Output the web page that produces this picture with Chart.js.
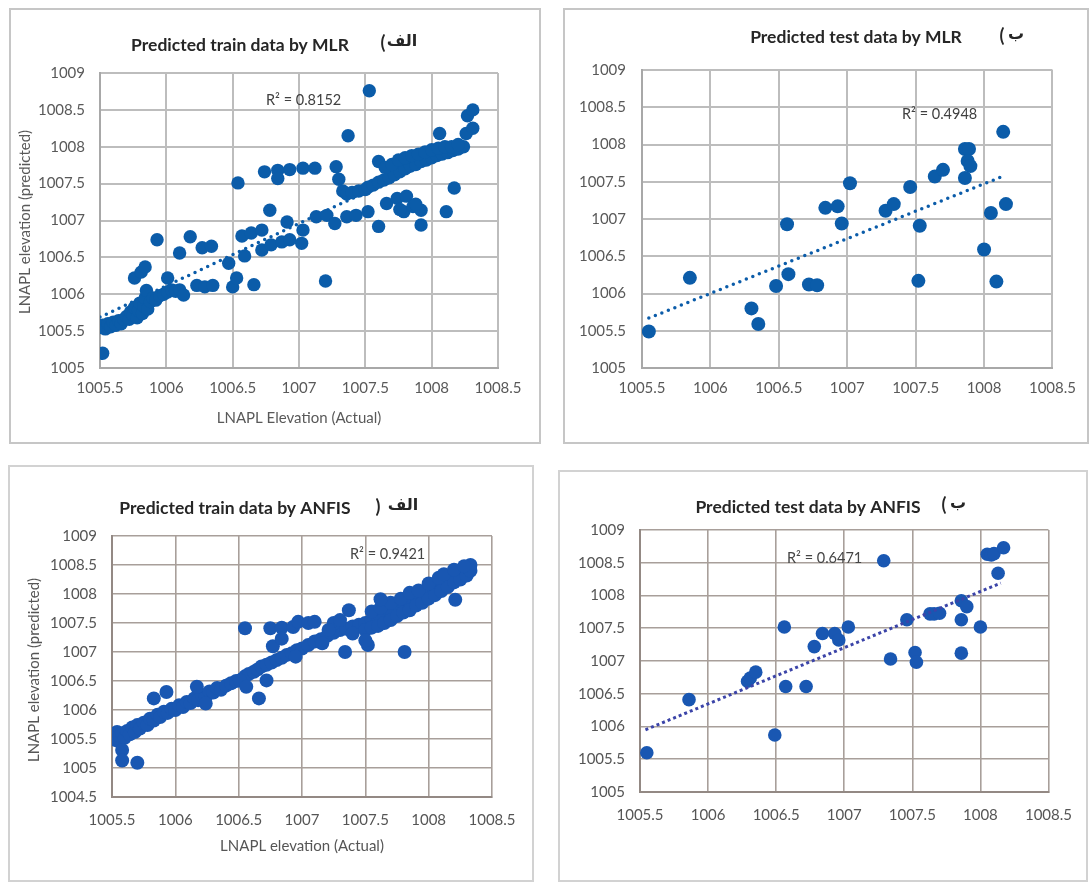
<!DOCTYPE html>
<html>
<head>
<meta charset="utf-8">
<title>LNAPL elevation: MLR and ANFIS predictions</title>
<script src="https://cdn.jsdelivr.net/npm/chart.js@4.4.1/dist/chart.umd.min.js"></script>
<style>
  html, body { margin: 0; padding: 0; background: #fff; }
  body { width: 1091px; height: 884px; position: relative; overflow: hidden; }
  .panel { position: absolute; box-sizing: border-box; background: #fff; }
  .panel canvas { position: absolute; left: 0; top: 0; }
</style>
</head>
<body>
<div class="panel" style="left:9px;top:8px;width:532px;height:436px;border:2px solid #c6c6c6"><canvas id="c1" width="528" height="432" style="width:528px;height:432px"></canvas></div>
<div class="panel" style="left:563px;top:8px;width:526px;height:436px;border:2px solid #c6c6c6"><canvas id="c2" width="522" height="432" style="width:522px;height:432px"></canvas></div>
<div class="panel" style="left:8px;top:465px;width:526px;height:417px;border:2px solid #d2d2d2"><canvas id="c3" width="522" height="413" style="width:522px;height:413px"></canvas></div>
<div class="panel" style="left:558px;top:470px;width:530px;height:412px;border:2px solid #d2d2d2"><canvas id="c4" width="526" height="408" style="width:526px;height:408px"></canvas></div>

<script>
// ---------- axis ticks ----------
const xTickValues = [1005.5, 1006, 1006.5, 1007, 1007.5, 1008, 1008.5];
const yTickValues = [1005, 1005.5, 1006, 1006.5, 1007, 1007.5, 1008, 1008.5, 1009];
const yTickValuesAnfisTrain = [1004.5, 1005, 1005.5, 1006, 1006.5, 1007, 1007.5, 1008, 1008.5, 1009];

// ---------- MLR, training set ----------
const mlrTrainActual = [
  1005.52,
  1005.51, 1005.52, 1005.54, 1005.56, 1005.58, 1005.60, 1005.62, 1005.64, 1005.66, 1005.68,
  1005.70, 1005.72, 1005.73, 1005.75, 1005.76, 1005.78, 1005.79, 1005.80, 1005.82, 1005.83,
  1005.84, 1005.85, 1005.86, 1005.88, 1005.90, 1005.92, 1005.95, 1005.98, 1006.01, 1006.04,
  1006.07, 1006.10, 1006.13,
  1005.76, 1005.81, 1005.84, 1005.93, 1006.01, 1006.10, 1006.18, 1006.27, 1006.34, 1006.23,
  1006.29, 1006.35, 1006.47, 1006.50, 1006.53, 1006.66, 1006.54, 1006.59, 1006.57, 1006.64,
  1006.72,
  1006.74, 1006.84, 1006.84, 1006.93, 1007.03, 1007.12, 1006.78, 1006.91,
  1006.72, 1006.79, 1006.87, 1006.93, 1007.02, 1007.03,
  1007.13, 1007.21, 1007.27, 1007.36, 1007.43, 1007.52, 1007.20, 1007.60,
  1007.37, 1007.53, 1007.28, 1007.30, 1007.33, 1007.36, 1007.40, 1007.45, 1007.50,
  1007.52, 1007.56, 1007.60, 1007.64, 1007.68, 1007.72, 1007.76, 1007.80, 1007.84, 1007.88,
  1007.92, 1007.96, 1008.00, 1008.04, 1008.08, 1008.12, 1008.16, 1008.20, 1008.24,
  1007.60, 1007.65, 1007.70, 1007.75, 1007.80, 1007.85, 1007.90, 1007.95, 1008.00, 1008.05,
  1008.10, 1008.15, 1008.20,
  1008.06, 1008.26, 1008.31, 1008.27, 1008.31, 1008.17,
  1007.66, 1007.74, 1007.81, 1007.79, 1007.86, 1007.92, 1007.92, 1008.11, 1007.76, 1007.88
];
const mlrTrainPredicted = [
  1005.20,
  1005.55, 1005.58, 1005.53, 1005.60, 1005.56, 1005.62, 1005.58, 1005.64, 1005.60, 1005.66,
  1005.70, 1005.66, 1005.76, 1005.72, 1005.82, 1005.68, 1005.78, 1005.88, 1005.74, 1005.84,
  1005.95, 1006.05, 1005.80, 1005.90, 1005.95, 1005.92, 1005.98, 1006.00, 1006.03, 1006.06,
  1006.04, 1006.06, 1005.99,
  1006.22, 1006.30, 1006.37, 1006.74, 1006.22, 1006.56, 1006.78, 1006.63, 1006.65, 1006.12,
  1006.10, 1006.12, 1006.42, 1006.10, 1006.22, 1006.13, 1007.51, 1006.52, 1006.79, 1006.83,
  1006.87,
  1007.66, 1007.68, 1007.57, 1007.69, 1007.71, 1007.71, 1007.14, 1006.98,
  1006.60, 1006.67, 1006.71, 1006.74, 1006.69, 1006.87,
  1007.05, 1007.07, 1006.96, 1007.05, 1007.07, 1007.12, 1006.18, 1006.92,
  1008.15, 1008.76, 1007.73, 1007.56, 1007.40, 1007.36, 1007.38, 1007.40, 1007.42,
  1007.45, 1007.48, 1007.52, 1007.55, 1007.58, 1007.62, 1007.66, 1007.70, 1007.74, 1007.76,
  1007.80, 1007.82, 1007.85, 1007.88, 1007.90, 1007.92, 1007.95, 1007.97, 1008.00,
  1007.80, 1007.72, 1007.76, 1007.82, 1007.85, 1007.88, 1007.90, 1007.93, 1007.96, 1007.98,
  1008.00, 1008.00, 1008.03,
  1008.18, 1008.18, 1008.25, 1008.42, 1008.50, 1007.44,
  1007.23, 1007.30, 1007.33, 1007.12, 1007.19, 1007.14, 1006.94, 1007.12, 1007.15, 1007.22
];
const mlrTrainTrendX = [1005.5, 1008.3];
const mlrTrainTrendY = [1005.69, 1008.06];

// ---------- MLR, test set ----------
const mlrTestActual = [
  1005.55, 1005.85, 1006.30, 1006.35, 1006.48, 1006.56, 1006.57, 1006.72, 1006.78, 1006.84,
  1006.93, 1006.96, 1007.02, 1007.28, 1007.34, 1007.46, 1007.53, 1007.52, 1007.64, 1007.70,
  1007.86, 1007.89, 1007.88, 1007.90, 1007.86, 1008.00, 1008.05, 1008.09, 1008.14, 1008.16
];
const mlrTestPredicted = [
  1005.49, 1006.21, 1005.80, 1005.59, 1006.10, 1006.93, 1006.26, 1006.12, 1006.11, 1007.15,
  1007.17, 1006.94, 1007.48, 1007.11, 1007.20, 1007.43, 1006.91, 1006.17, 1007.57, 1007.66,
  1007.94, 1007.94, 1007.78, 1007.71, 1007.55, 1006.59, 1007.08, 1006.16, 1008.17, 1007.20
];
const mlrTestTrendX = [1005.55, 1008.16];
const mlrTestTrendY = [1005.67, 1007.59];

// ---------- ANFIS, training set ----------
const anfisTrainActual = [
  1005.50, 1005.51, 1005.53, 1005.54, 1005.56, 1005.58, 1005.60, 1005.62, 1005.64, 1005.58,
  1005.58, 1005.70,
  1005.66, 1005.68, 1005.70, 1005.72, 1005.75, 1005.78, 1005.80, 1005.83, 1005.86, 1005.88,
  1005.91, 1005.94, 1005.97, 1006.00, 1006.03, 1006.06, 1006.09, 1006.12, 1006.15, 1006.18,
  1006.21, 1006.24, 1006.27, 1006.30, 1006.33, 1006.36, 1006.40, 1006.44, 1006.48, 1006.52,
  1006.55, 1006.58, 1006.62, 1006.65, 1006.68, 1006.72, 1006.76, 1006.80, 1006.84, 1006.88,
  1006.92, 1006.96, 1007.00, 1007.05, 1007.10, 1007.15, 1007.20, 1007.25, 1007.30, 1007.35,
  1007.40, 1007.45, 1007.50, 1007.55, 1007.60, 1007.65, 1007.70, 1007.75, 1007.80, 1007.85,
  1007.90, 1007.95, 1008.00, 1008.05, 1008.10, 1008.15, 1008.20, 1008.25, 1008.30, 1008.33,
  1007.25, 1007.30, 1007.40, 1007.50, 1007.55, 1007.60, 1007.65, 1007.70, 1007.75, 1007.80,
  1007.85, 1007.90, 1007.95, 1008.00, 1008.05, 1008.10, 1008.15, 1008.20, 1008.25, 1008.30,
  1008.33,
  1007.55, 1007.62, 1007.70, 1007.78, 1007.85, 1007.92, 1008.00, 1008.08, 1008.12, 1008.20,
  1008.28,
  1005.83, 1005.93, 1006.17, 1006.24, 1006.55, 1006.66, 1006.72, 1006.51, 1006.56, 1006.75,
  1006.84, 1006.93, 1006.97, 1007.05, 1007.10, 1006.77, 1006.84, 1006.95, 1007.16, 1007.34,
  1007.37, 1007.52, 1007.50, 1007.62, 1007.81, 1008.21, 1007.21
];
const anfisTrainPredicted = [
  1005.52, 1005.58, 1005.48, 1005.62, 1005.55, 1005.60, 1005.52, 1005.64, 1005.58, 1005.31,
  1005.13, 1005.09,
  1005.70, 1005.62, 1005.74, 1005.68, 1005.78, 1005.74, 1005.85, 1005.82, 1005.92, 1005.88,
  1005.97, 1005.95, 1006.02, 1006.00, 1006.08, 1006.05, 1006.14, 1006.12, 1006.20, 1006.17,
  1006.26, 1006.22, 1006.32, 1006.30, 1006.38, 1006.35, 1006.42, 1006.46, 1006.50, 1006.52,
  1006.58, 1006.62, 1006.66, 1006.70, 1006.75, 1006.78, 1006.82, 1006.86, 1006.90, 1006.95,
  1006.98, 1007.03, 1007.06, 1007.12, 1007.18, 1007.22, 1007.28, 1007.33, 1007.38, 1007.40,
  1007.44, 1007.47, 1007.50, 1007.55, 1007.60, 1007.65, 1007.72, 1007.78, 1007.84, 1007.90,
  1007.96, 1008.02, 1008.08, 1008.14, 1008.20, 1008.26, 1008.32, 1008.38, 1008.44, 1008.50,
  1007.50, 1007.55, 1007.32, 1007.38, 1007.42, 1007.45, 1007.50, 1007.55, 1007.62, 1007.68,
  1007.72, 1007.80, 1007.85, 1007.92, 1007.98, 1008.05, 1008.12, 1008.20, 1008.25, 1008.32,
  1008.40,
  1007.70, 1007.76, 1007.85, 1007.92, 1008.02, 1008.06, 1008.18, 1008.28, 1008.34, 1008.42,
  1008.48,
  1006.20, 1006.31, 1006.40, 1006.11, 1007.41, 1006.20, 1006.51, 1006.51, 1006.40, 1007.41,
  1007.42, 1007.43, 1007.52, 1007.50, 1007.52, 1007.10, 1007.23, 1006.92, 1007.15, 1007.00,
  1007.72, 1007.12, 1007.20, 1007.91, 1007.00, 1007.90, 1007.38
];
const anfisTrainTrendX = [1005.5, 1008.33];
const anfisTrainTrendY = [1005.56, 1008.40];

// ---------- ANFIS, test set ----------
const anfisTestActual = [
  1005.55, 1005.86, 1006.29, 1006.31, 1006.35, 1006.49, 1006.56, 1006.57, 1006.72, 1006.78,
  1006.84, 1006.93, 1006.96, 1007.03, 1007.29, 1007.34, 1007.46, 1007.52, 1007.53, 1007.63,
  1007.66, 1007.70, 1007.86, 1007.90, 1007.86, 1007.86, 1008.00, 1008.05, 1008.08, 1008.10,
  1008.17, 1008.13
];
const anfisTestPredicted = [
  1005.60, 1006.41, 1006.69, 1006.74, 1006.83, 1005.87, 1007.52, 1006.61, 1006.61, 1007.22,
  1007.42, 1007.42, 1007.32, 1007.52, 1008.53, 1007.03, 1007.63, 1007.13, 1006.98, 1007.72,
  1007.72, 1007.73, 1007.92, 1007.83, 1007.63, 1007.12, 1007.52, 1008.63, 1008.62, 1008.64,
  1008.73, 1008.34
];
const anfisTestTrendX = [1005.54, 1008.15];
const anfisTestTrendY = [1005.95, 1008.19];

// ---------- helpers ----------
const pairs = (xs, ys) => xs.map((x, i) => ({ x: x, y: ys[i] }));
const fmt = v => String(Math.round(v * 10) / 10);

// text layer: titles, panel letters, axis titles and R² notes
const panelText = {
  id: 'panelText',
  afterDraw(chart, args, opts) {
    const ctx = chart.ctx;
    for (const t of opts.items) {
      ctx.save();
      ctx.font = t.font;
      ctx.fillStyle = t.color;
      ctx.textAlign = t.align || 'center';
      ctx.textBaseline = 'middle';
      ctx.direction = 'ltr';
      ctx.translate(t.x - opts.ox, t.y - opts.oy);
      if (t.rotate) ctx.rotate(t.rotate);
      ctx.fillText(t.text, 0, 0);
      ctx.restore();
    }
  }
};

function buildChart(id, g) {
  const datasets = [];
  const trend = {
    type: 'line',
    data: pairs(g.trendX, g.trendY),
    showLine: true,
    borderColor: g.trendColor,
    borderWidth: g.trendWidth,
    borderDash: g.trendDash,
    borderCapStyle: g.trendCap,
    pointRadius: 0,
    fill: false
  };
  const points = {
    data: pairs(g.xs, g.ys),
    backgroundColor: g.dotColor,
    borderWidth: 0,
    pointRadius: g.dotRadius,
    pointHoverRadius: g.dotRadius
  };
  if (g.trendOnTop) { datasets.push(trend, points); } else { datasets.push(points, trend); }

  return new Chart(document.getElementById(id), {
    type: 'scatter',
    data: { datasets: datasets },
    plugins: [panelText],
    options: {
      responsive: false,
      animation: false,
      events: [],
      layout: { padding: { left: 0, top: g.padTop, right: g.padRight, bottom: 0 } },
      plugins: {
        legend: { display: false },
        tooltip: { enabled: false },
        panelText: { items: g.texts, ox: g.ox, oy: g.oy }
      },
      scales: {
        x: {
          type: 'linear',
          min: xTickValues[0],
          max: xTickValues[xTickValues.length - 1],
          afterBuildTicks: ax => { ax.ticks = xTickValues.map(v => ({ value: v })); },
          afterFit: ax => { ax.height = g.xAxisH; },
          grid: { color: g.gridColor, lineWidth: g.gridWidth, drawTicks: false },
          border: { display: true, color: g.axisColor, width: g.axisWidth },
          ticks: {
            callback: fmt, padding: g.xTickPad, color: g.tickColor,
            font: { family: 'Lato', size: g.tickSize }, maxRotation: 0, autoSkip: false
          }
        },
        y: {
          type: 'linear',
          min: g.yTicks[0],
          max: g.yTicks[g.yTicks.length - 1],
          afterBuildTicks: ax => { ax.ticks = g.yTicks.map(v => ({ value: v })); },
          afterFit: ax => { ax.width = g.yAxisW; },
          grid: { color: g.gridColor, lineWidth: g.gridWidth, drawTicks: false },
          border: { display: true, color: g.axisColor, width: g.axisWidth },
          ticks: {
            callback: fmt, padding: g.yTickPad, color: g.tickColor,
            font: { family: 'Lato', size: g.tickSize }, autoSkip: false
          }
        }
      }
    }
  });
}

const titleFont = 'bold 17.5px Lato';
const parenFont = '18px Lato';
const arabicFont = 'bold 16px "DejaVu Sans"';
const noteFont = '14.5px Lato';
const axisTitleFont = '15px Lato';
const blueTop = '#0b5ca9';
const blueBottom = '#1957b2';

// top-left: training data, MLR
buildChart('c1', {
  ox: 11, oy: 10, padTop: 63, padRight: 41, yAxisW: 89, xAxisH: 74,
  xs: mlrTrainActual, ys: mlrTrainPredicted, yTicks: yTickValues,
  trendX: mlrTrainTrendX, trendY: mlrTrainTrendY,
  dotColor: blueTop, dotRadius: 6.7,
  trendColor: blueTop, trendWidth: 3.5, trendDash: [0, 7], trendCap: 'round', trendOnTop: false,
  gridColor: '#bdbdbd', gridWidth: 2, axisColor: '#a8a8a8', axisWidth: 2,
  tickColor: '#595959', tickSize: 15, xTickPad: 11, yTickPad: 15,
  texts: [
    { text: 'Predicted train data by MLR', x: 240, y: 45, font: titleFont, color: '#262626' },
    { text: '(', x: 383, y: 43, font: 'bold ' + parenFont, color: '#262626' },
    { text: 'الف', x: 402, y: 42, font: arabicFont, color: '#262626' },
    { text: 'R² = 0.8152', x: 266, y: 100, font: noteFont, color: '#404040', align: 'left' },
    { text: 'LNAPL Elevation (Actual)', x: 299, y: 418, font: axisTitleFont, color: '#595959' },
    { text: 'LNAPL elevation (predicted)', x: 25, y: 222, font: axisTitleFont, color: '#595959', rotate: -Math.PI / 2 }
  ]
});

// top-right: test data, MLR
buildChart('c2', {
  ox: 565, oy: 10, padTop: 60, padRight: 25, yAxisW: 77, xAxisH: 74,
  xs: mlrTestActual, ys: mlrTestPredicted, yTicks: yTickValues,
  trendX: mlrTestTrendX, trendY: mlrTestTrendY,
  dotColor: blueTop, dotRadius: 7,
  trendColor: blueTop, trendWidth: 3.5, trendDash: [0, 7], trendCap: 'round', trendOnTop: false,
  gridColor: '#bdbdbd', gridWidth: 2, axisColor: '#a8a8a8', axisWidth: 2,
  tickColor: '#595959', tickSize: 15, xTickPad: 11, yTickPad: 16,
  texts: [
    { text: 'Predicted test data by MLR', x: 856, y: 37, font: titleFont, color: '#262626' },
    { text: '(', x: 1002, y: 36, font: 'bold ' + parenFont, color: '#262626' },
    { text: 'ب', x: 1016, y: 35, font: arabicFont, color: '#262626' },
    { text: 'R² = 0.4948', x: 902, y: 114, font: noteFont, color: '#404040', align: 'left' }
  ]
});

// bottom-left: training data, ANFIS
buildChart('c3', {
  ox: 10, oy: 467, padTop: 69, padRight: 40, yAxisW: 102, xAxisH: 83,
  xs: anfisTrainActual, ys: anfisTrainPredicted, yTicks: yTickValuesAnfisTrain,
  trendX: anfisTrainTrendX, trendY: anfisTrainTrendY,
  dotColor: blueBottom, dotRadius: 7,
  trendColor: blueBottom, trendWidth: 3, trendDash: [3, 3], trendCap: 'butt', trendOnTop: false,
  gridColor: '#a89f9a', gridWidth: 1.6, axisColor: '#938984', axisWidth: 2,
  tickColor: '#555555', tickSize: 15, xTickPad: 14, yTickPad: 15,
  texts: [
    { text: 'Predicted train data by ANFIS', x: 235, y: 508, font: titleFont, color: '#262626' },
    { text: ')', x: 378, y: 507, font: 'bold ' + parenFont, color: '#262626' },
    { text: 'الف', x: 403, y: 506, font: arabicFont, color: '#262626' },
    { text: 'R² = 0.9421', x: 350, y: 554, font: noteFont, color: '#454545', align: 'left' },
    { text: 'LNAPL elevation (Actual)', x: 302, y: 846, font: axisTitleFont, color: '#555555' },
    { text: 'LNAPL elevation (predicted)', x: 34, y: 670, font: axisTitleFont, color: '#555555', rotate: -Math.PI / 2 }
  ]
});

// bottom-right: test data, ANFIS
buildChart('c4', {
  ox: 560, oy: 472, padTop: 58, padRight: 36, yAxisW: 80, xAxisH: 88,
  xs: anfisTestActual, ys: anfisTestPredicted, yTicks: yTickValues,
  trendX: anfisTestTrendX, trendY: anfisTestTrendY,
  dotColor: blueBottom, dotRadius: 6.8,
  trendColor: '#3b44a8', trendWidth: 3, trendDash: [3, 3], trendCap: 'butt', trendOnTop: true,
  gridColor: '#a89f9a', gridWidth: 1.6, axisColor: '#938984', axisWidth: 2,
  tickColor: '#555555', tickSize: 15, xTickPad: 14, yTickPad: 15,
  texts: [
    { text: 'Predicted test data by ANFIS', x: 808, y: 507, font: titleFont, color: '#262626' },
    { text: '(', x: 944, y: 505, font: 'bold ' + parenFont, color: '#262626' },
    { text: 'ب', x: 958, y: 504, font: arabicFont, color: '#262626' },
    { text: 'R² = 0.6471', x: 787, y: 558, font: noteFont, color: '#454545', align: 'left' }
  ]
});
</script>
</body>
</html>
